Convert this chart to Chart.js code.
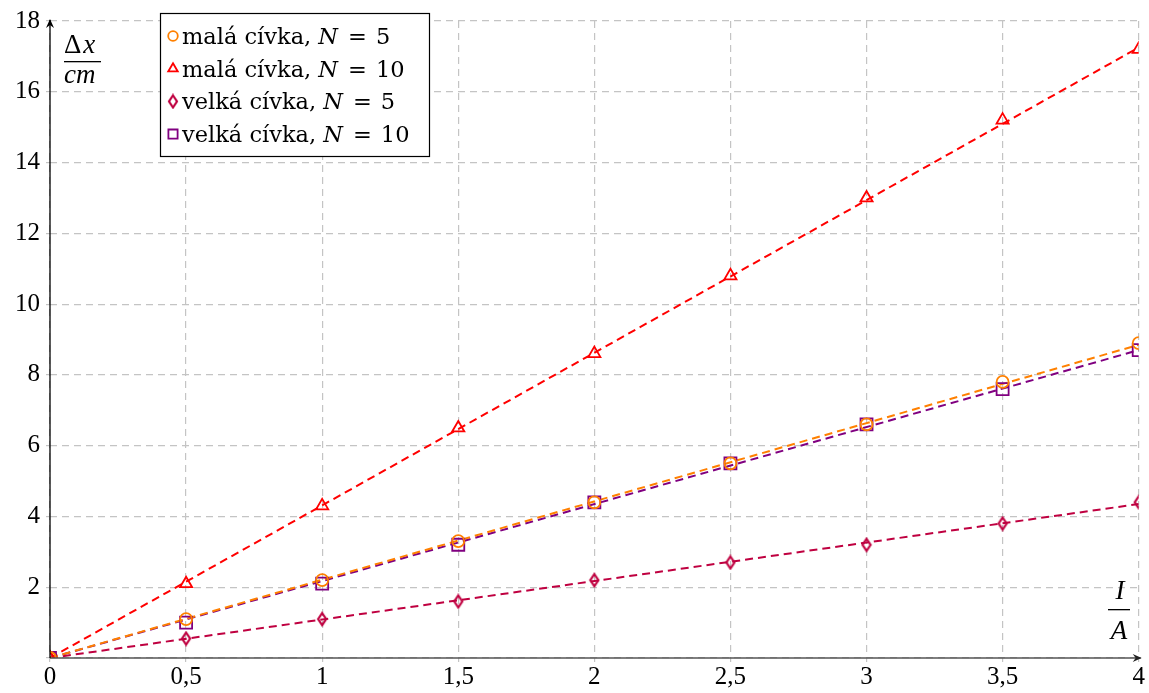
<!DOCTYPE html>
<html>
<head>
<meta charset="utf-8">
<script src="https://cdn.jsdelivr.net/npm/chart.js@4.4.1/dist/chart.umd.min.js"></script>
<style>
  body { margin: 0; background: #fff; }
  #wrap { width: 1149px; height: 693px; }
  .preload { position: absolute; left: -9999px; top: 0; }
</style>
</head>
<body>
<div class="preload" style="font-family:'Liberation Serif'">0 1 Δ<i>x cm I A</i></div>
<div class="preload" style="font-family:'DejaVu Serif'">malá cívka <i>N</i> = 5</div>
<div id="wrap"><canvas id="chart"></canvas></div>
<script>
// measured current I (A)
const currents = [0, 0.5, 1, 1.5, 2, 2.5, 3, 3.5, 4];

// deflection dx (cm)
const smallN5 = [0, 1.1, 2.2, 3.3, 4.4, 5.5, 6.6, 7.8, 8.9];
const smallN10 = [0, 2.1, 4.3, 6.5, 8.6, 10.8, 13.0, 15.2, 17.2];
const bigN5 = [0, 0.55, 1.1, 1.6, 2.2, 2.7, 3.2, 3.8, 4.4];
const bigN10 = [0, 1.0, 2.1, 3.2, 4.4, 5.5, 6.6, 7.6, 8.7];

// fitted lines, read at both ends
const fitX = [0, 4];
const fitSmallN5 = [0, 8.85];
const fitSmallN10 = [0, 17.25];
const fitBigN5 = [0, 4.35];
const fitBigN10 = [0, 8.7];

const labels = ["malá cívka, ", "malá cívka, ", "velká cívka, ", "velká cívka, "];
const nValues = ["5", "10", "5", "10"];
const colors = ["#ff8000", "#ff0000", "#bf0040", "#800080"];

// narrow diamond like the tikz one
function diamond(w, h, color) {
  const c = document.createElement("canvas");
  c.width = w + 4;
  c.height = h + 4;
  const g = c.getContext("2d");
  g.strokeStyle = color;
  g.lineWidth = 2.2;
  g.beginPath();
  g.moveTo(c.width / 2, 2);
  g.lineTo(c.width - 2, c.height / 2);
  g.lineTo(c.width / 2, c.height - 2);
  g.lineTo(2, c.height / 2);
  g.closePath();
  g.stroke();
  return c;
}

const markers = ["circle", "triangle", diamond(8, 12, colors[2]), "rect"];
const radii = [6, 7, 6, 8.5];

const pts = (xs, ys) => xs.map((x, i) => ({ x: x, y: ys[i] }));

const seriesData = [smallN5, smallN10, bigN5, bigN10];
const fitData = [fitSmallN5, fitSmallN10, fitBigN5, fitBigN10];

const datasets = [];
seriesData.forEach((s, i) => {
  datasets.push({
    data: pts(currents, s),
    borderColor: colors[i],
    backgroundColor: "rgba(255,255,255,0)",
    pointStyle: markers[i],
    pointRadius: radii[i],
    pointBorderWidth: 1.8,
    showLine: false
  });
});
fitData.forEach((f, i) => {
  datasets.push({
    data: pts(fitX, f),
    borderColor: colors[i],
    borderWidth: 2,
    borderDash: [8, 5],
    pointRadius: 0,
    showLine: true,
    fill: false
  });
});

const serif = '"Liberation Serif", serif';
const wide = '"DejaVu Serif", serif';

const decor = {
  id: "decor",
  afterDraw(chart) {
    const ctx = chart.ctx;
    const a = chart.chartArea;
    ctx.save();

    // x axis with arrow
    ctx.strokeStyle = "#555";
    ctx.lineWidth = 1.5;
    ctx.beginPath();
    ctx.moveTo(a.left, a.bottom);
    ctx.lineTo(a.right + 2, a.bottom);
    ctx.stroke();
    ctx.fillStyle = "#222";
    ctx.beginPath();
    ctx.moveTo(a.right + 3, a.bottom);
    ctx.lineTo(a.right - 6, a.bottom - 4);
    ctx.lineTo(a.right - 3, a.bottom);
    ctx.lineTo(a.right - 6, a.bottom + 4);
    ctx.closePath();
    ctx.fill();

    // y axis with arrow
    ctx.strokeStyle = "#000";
    ctx.lineWidth = 1.3;
    ctx.beginPath();
    ctx.moveTo(a.left, a.bottom);
    ctx.lineTo(a.left, a.top - 1);
    ctx.stroke();
    ctx.fillStyle = "#000";
    ctx.beginPath();
    ctx.moveTo(a.left, a.top - 2);
    ctx.lineTo(a.left - 4, a.top + 7);
    ctx.lineTo(a.left, a.top + 4);
    ctx.lineTo(a.left + 4, a.top + 7);
    ctx.closePath();
    ctx.fill();

    // axis labels as fractions
    ctx.fillStyle = "#000";
    ctx.textBaseline = "alphabetic";
    ctx.textAlign = "left";
    ctx.font = "27px " + serif;
    ctx.fillText("Δ", 64, 53);
    let w = ctx.measureText("Δ").width;
    ctx.font = "italic 27px " + serif;
    ctx.fillText("x", 66 + w, 53);
    ctx.fillText("cm", 64, 83);
    ctx.fillRect(64, 61, 37, 1.3);

    ctx.textAlign = "center";
    ctx.fillText("I", 1120, 599);
    ctx.fillText("A", 1119, 639);
    ctx.fillRect(1108, 609, 22, 1.3);

    // legend box
    const bx = 160, by = 13, bw = 269, bh = 143;
    ctx.fillStyle = "#fff";
    ctx.fillRect(bx, by, bw, bh);
    ctx.strokeStyle = "#000";
    ctx.lineWidth = 1.2;
    ctx.strokeRect(bx + 0.5, by + 0.5, bw, bh);
    ctx.textAlign = "left";
    for (let i = 0; i < labels.length; i++) {
      const cy = 36 + i * 32.7;
      ctx.strokeStyle = colors[i];
      ctx.fillStyle = "#fff";
      ctx.lineWidth = 1.8;
      if (i === 2) {
        ctx.drawImage(markers[2], 173 - 6, cy - 8, 12, 16);
      } else {
        Chart.helpers.drawPoint(ctx, {
          pointStyle: markers[i],
          radius: [4.8, 5.5, 0, 6.5][i],
          rotation: 0,
          borderWidth: 1.8
        }, 173, cy);
      }
      ctx.fillStyle = "#000";
      let x = 182;
      const base = cy + 8;
      ctx.font = "22.5px " + wide;
      ctx.fillText(labels[i], x, base);
      x += ctx.measureText(labels[i]).width;
      ctx.font = "italic 22.5px " + wide;
      ctx.fillText("N", x, base);
      x += ctx.measureText("N").width;
      ctx.font = "22.5px " + wide;
      ctx.fillText("=", x + 10, base);
      ctx.fillText(nValues[i], x + 10 + ctx.measureText("=").width + 9, base);
    }
    ctx.restore();
  }
};

function draw() {
  new Chart(document.getElementById("chart"), {
    type: "scatter",
    data: { datasets: datasets },
    options: {
      responsive: true,
      maintainAspectRatio: false,
      animation: false,
      layout: { padding: { top: 20, right: 9, left: 0, bottom: 0 } },
      plugins: {
        legend: { display: false },
        tooltip: { enabled: false }
      },
      scales: {
        x: {
          type: "linear",
          min: 0,
          max: 4,
          afterFit: (s) => { s.height = 35; },
          ticks: {
            stepSize: 0.5,
            color: "#000",
            font: { family: serif, size: 25 },
            padding: 0,
            maxRotation: 0,
            callback: (v) => String(v).replace(".", ",")
          },
          grid: { color: "#c4c4c4", lineWidth: 1.2, drawTicks: true, tickLength: 4 },
          border: { display: false, dash: [7, 5] }
        },
        y: {
          min: 0,
          max: 18,
          afterFit: (s) => { s.width = 50; },
          ticks: {
            stepSize: 2,
            color: "#000",
            font: { family: serif, size: 25 },
            padding: 6,
            callback: (v) => (v === 0 ? "" : String(v))
          },
          grid: { color: "#c4c4c4", lineWidth: 1.2, drawTicks: true, tickLength: 4 },
          border: { display: false, dash: [7, 5] }
        }
      }
    },
    plugins: [decor]
  });
}

Promise.all([
  document.fonts.load('25px "Liberation Serif"'),
  document.fonts.load('italic 25px "Liberation Serif"'),
  document.fonts.load('22px "DejaVu Serif"'),
  document.fonts.load('italic 22px "DejaVu Serif"')
]).then(draw, draw);
</script>
</body>
</html>
